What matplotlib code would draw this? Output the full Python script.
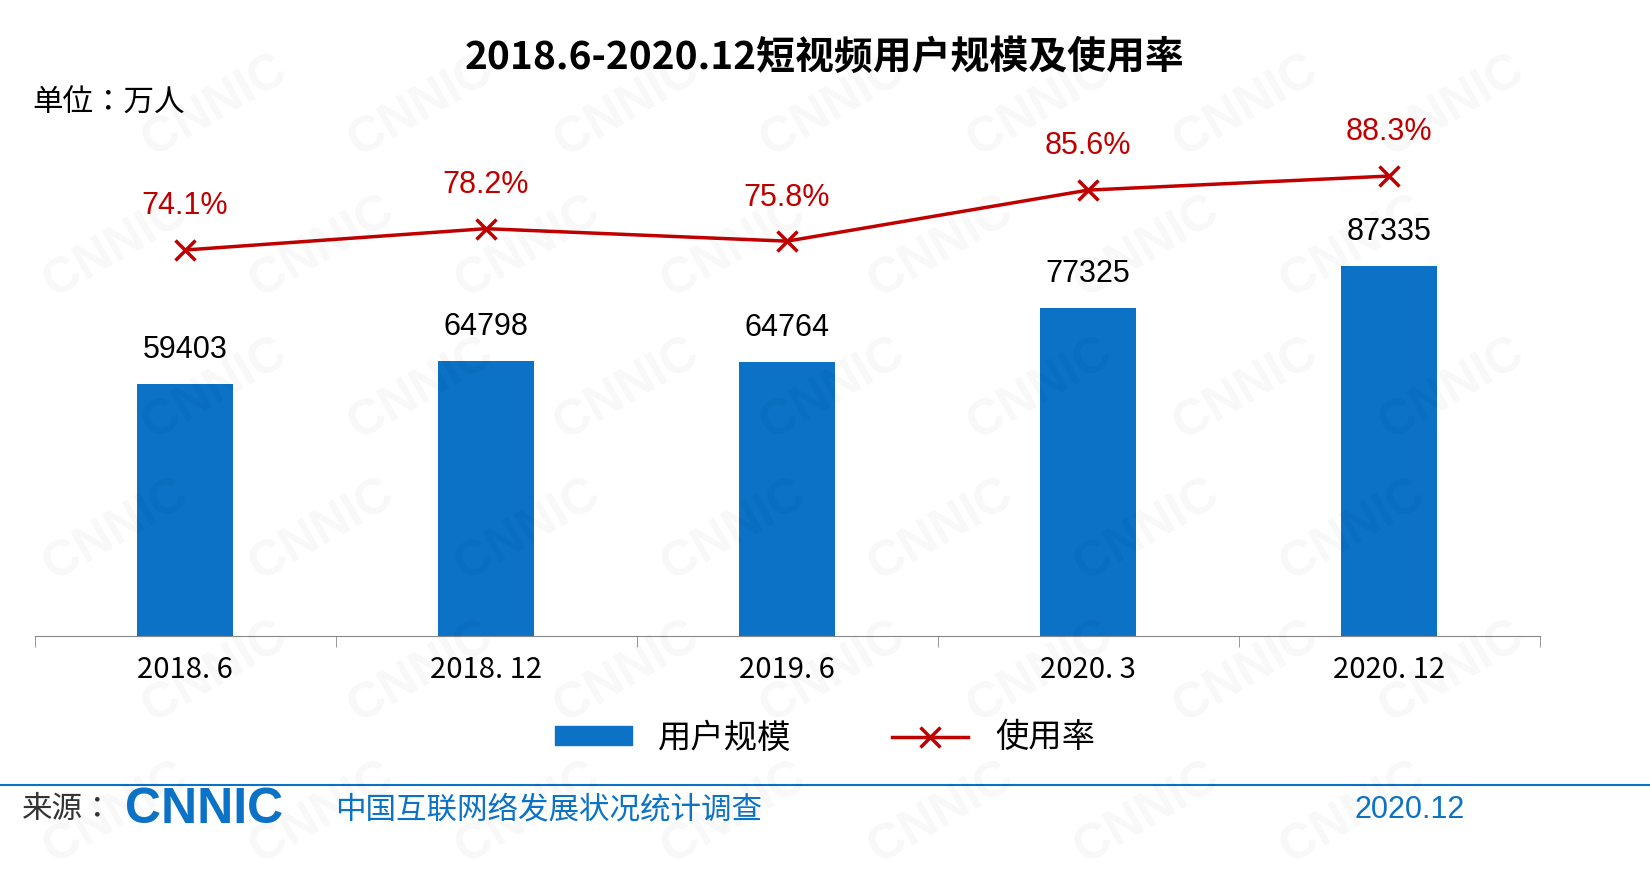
import matplotlib.pyplot as plt
from matplotlib import font_manager as fm
from matplotlib.lines import Line2D
from matplotlib.patches import Patch

# find a sans CJK font file directly
fonts = [f for f in fm.findSystemFonts() if "CJK" in f and "Sans" in f]
regular = [f for f in fonts if "Regular" in f] or fonts
bold = [f for f in fonts if "Bold" in f] or regular
if fonts:
    cjk = fm.FontProperties(fname=regular[0])
    cjkb = fm.FontProperties(fname=bold[0])
else:
    cjk = fm.FontProperties(family="Noto Sans CJK SC")
    cjkb = fm.FontProperties(family="Noto Sans CJK SC", weight="bold")

plt.rcParams["font.family"] = ["Liberation Sans"]

periods = ["2018. 6", "2018. 12", "2019. 6", "2020. 3", "2020. 12"]
users = [59403, 64798, 64764, 77325, 87335]
rate = [74.1, 78.2, 75.8, 85.6, 88.3]

blue = "#0b72c6"
red = "#c00000"

fig = plt.figure(figsize=(16.5, 8.84), dpi=100)

# faint watermark
for i in range(0, 7):
    for j in range(0, 6):
        fig.text(0.07 + i * 0.125 + (j % 2) * 0.06, 0.08 + j * 0.16, "CNNIC", fontsize=36,
                 fontweight="bold", color="#000000", alpha=0.03, rotation=30,
                 ha="center", va="center")

ax = fig.add_axes([34.5 / 1650, 248 / 884, 1505 / 1650, 536 / 884])
x = range(len(periods))
ax.bar(x, users, width=0.32, color=blue, zorder=2)
for xi, v in zip(x, users):
    ax.text(xi, v + 4500, str(v), ha="center", va="bottom", fontsize=22)
ax.set_xlim(-0.5, 4.5)
ax.set_ylim(0, 126516)
ax.set_yticks([])
for s in ["top", "right", "left"]:
    ax.spines[s].set_visible(False)
ax.spines["bottom"].set_color("#888888")
ax.set_xticks(list(x))
ax.set_xticklabels(periods, fontproperties=cjk, fontsize=21)
ax.tick_params(axis="x", length=0, pad=14)
ax.set_xticks([-0.5, 0.5, 1.5, 2.5, 3.5, 4.5], minor=True)
ax.tick_params(axis="x", which="minor", length=8, color="#888888")

ax2 = ax.twinx()
ax2.plot(list(x), rate, color=red, lw=2.5, marker="x", markersize=14, mew=2.5, zorder=3)
for xi, r in zip(x, rate):
    ax2.text(xi, r + 5.5, f"{r}%", ha="center", va="bottom", fontsize=22, color=red)
ax2.set_ylim(0, 102.9)
ax2.axis("off")

fig.text(0.5, 1 - 57 / 884, "2018.6-2020.12短视频用户规模及使用率", ha="center",
         va="center", fontproperties=cjkb, fontsize=28)
fig.text(32 / 1650, 1 - 103 / 884, "单位：万人", ha="left", va="center",
         fontproperties=cjk, fontsize=22)

handles = [Patch(color=blue), Line2D([], [], color=red, lw=2.5, marker="x", markersize=14, mew=2.5)]
lp = cjk.copy()
lp.set_size(24)
fig.legend(handles, ["用户规模", "使用率"], loc="center", bbox_to_anchor=(0.5, 1 - 738 / 884),
           ncol=2, frameon=False, prop=lp, handlelength=2.3, handleheight=0.5, columnspacing=3)

fig.add_artist(Line2D([0, 1], [1 - 785 / 884] * 2, color=blue, lw=1.5))
fig.text(22 / 1650, 1 - 810 / 884, "来源：", ha="left", va="center", fontproperties=cjk,
         fontsize=22, color="#333333")
fig.text(125 / 1650, 1 - 810 / 884, "CNNIC", ha="left", va="center", fontsize=36,
         fontweight="heavy", color=blue)
fig.text(335 / 1650, 1 - 810 / 884, "中国互联网络发展状况统计调查", ha="left", va="center",
         fontproperties=cjk, fontsize=22, color=blue)
fig.text(1465 / 1650, 1 - 810 / 884, "2020.12", ha="right", va="center", fontsize=22, color=blue)

fig.savefig("out.png", dpi=100)
